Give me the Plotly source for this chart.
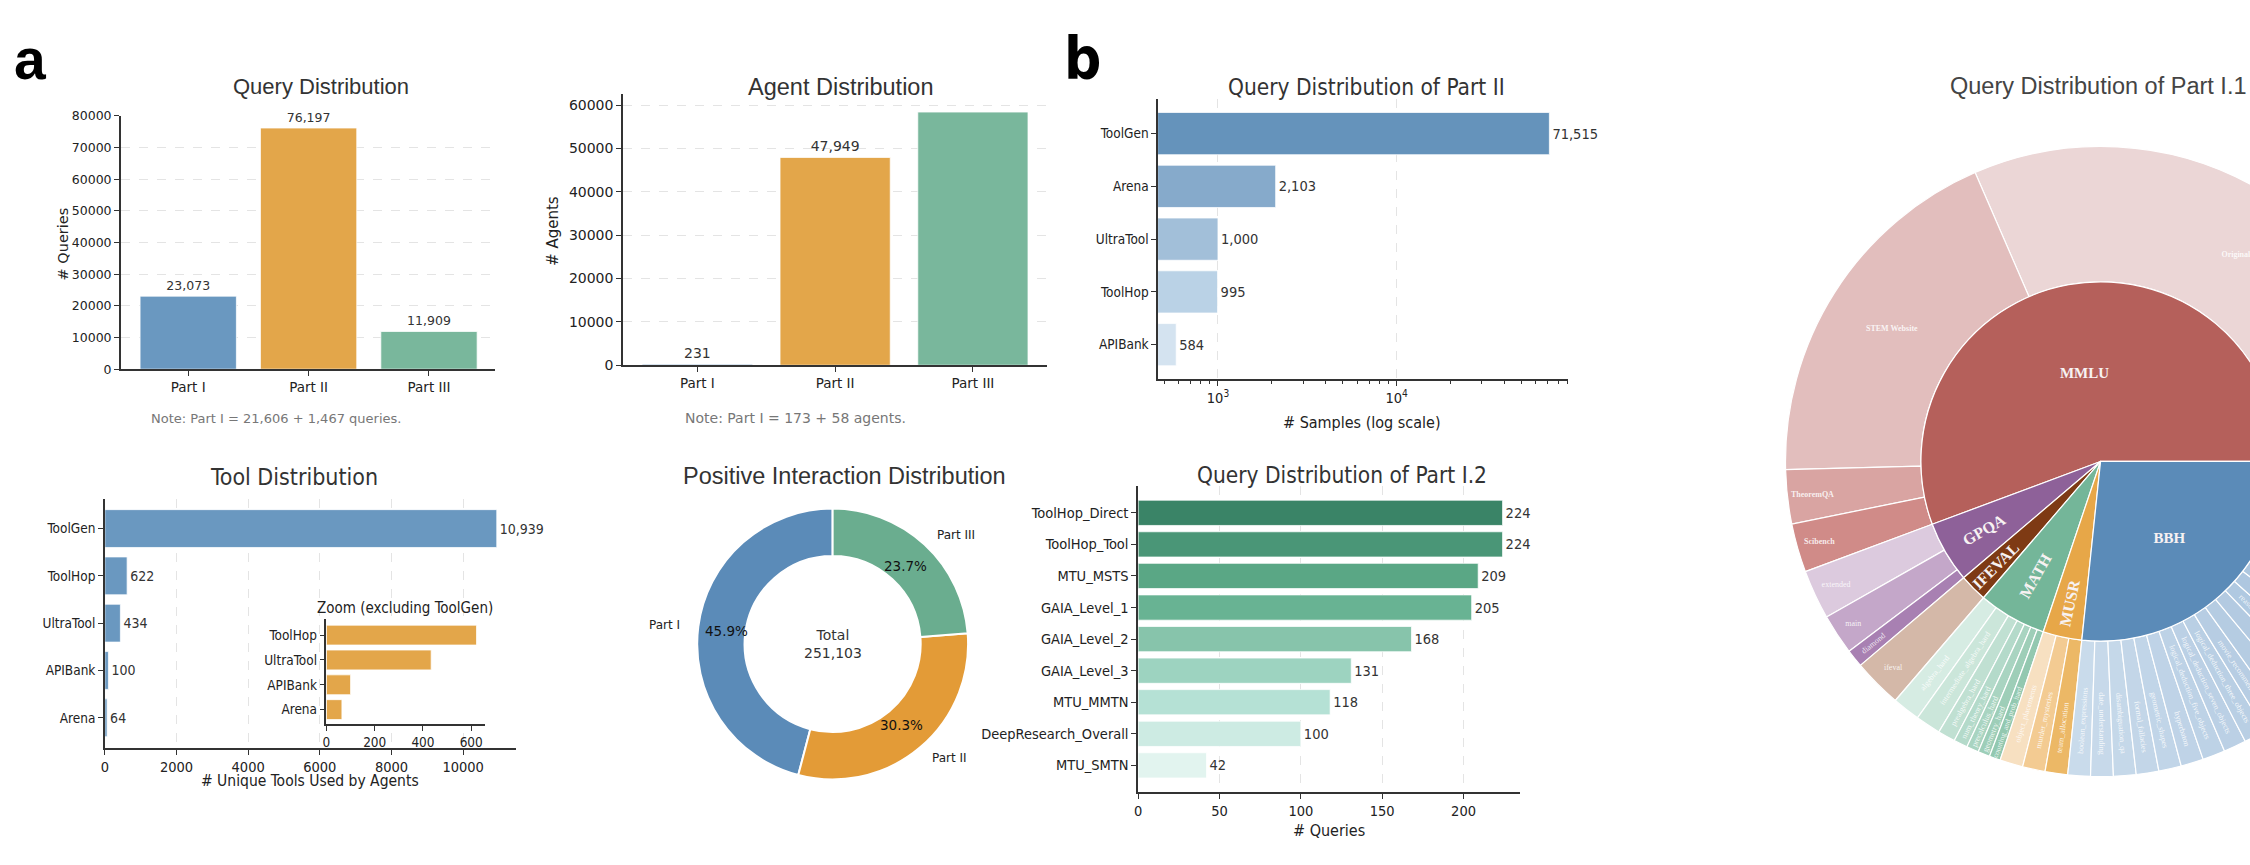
import math
import plotly.graph_objects as go

# ---------------- data ----------------
parts = ["Part I", "Part II", "Part III"]
query_counts = [23073, 76197, 11909]
agent_counts = [231, 47949, 58420]
query_note = "Note: Part I = 21,606 + 1,467 queries."
agent_note = "Note: Part I = 173 + 58 agents."

tool_sources = ["ToolGen", "ToolHop", "UltraTool", "APIBank", "Arena"]
tool_counts = [10939, 622, 434, 100, 64]

interaction_counts = [115300, 76200, 59603]

part2_sources = ["ToolGen", "Arena", "UltraTool", "ToolHop", "APIBank"]
part2_counts = [71515, 2103, 1000, 995, 584]

part12_names = ["ToolHop_Direct", "ToolHop_Tool", "MTU_MSTS", "GAIA_Level_1", "GAIA_Level_2",
                "GAIA_Level_3", "MTU_MMTN", "DeepResearch_Overall", "MTU_SMTN"]
part12_counts = [224, 224, 209, 205, 168, 131, 118, 100, 42]

sb_groups = ["MMLU", "GPQA", "IFEVAL", "MATH", "MUSR", "BBH"]
sb_leaf_group = (["MMLU"] * 4 + ["GPQA"] * 3 + ["IFEVAL"] + ["MATH"] * 7 + ["MUSR"] * 3 + ["BBH"] * 24)
sb_leaf_names = ["Original", "STEM Website", "TheoremQA", "Scibench",
                 "extended", "main", "diamond",
                 "ifeval",
                 "algebra_hard", "intermediate_algebra_hard", "prealgebra_hard", "num_theory_hard",
                 "precalculus_hard", "geometry_hard", "counting_and_prob_hard",
                 "object_placements", "murder_mysteries", "team_allocation",
                 "boolean_expressions", "date_understanding", "disambiguation_qa", "formal_fallacies",
                 "geometric_shapes", "hyperbaton", "logical_deduction_five_objects",
                 "logical_deduction_seven_objects", "logical_deduction_three_objects",
                 "movie_recommendation", "navigate", "object_counting",
                 "reasoning_about_colored_objects", "ruin_names",
                 "salient_translation_error_detection", "sports_understanding", "temporal_sequences",
                 "tracking_shuffled_objects_five_objects", "tracking_shuffled_objects_seven_objects",
                 "tracking_shuffled_objects_three_objects", "web_of_lies",
                 "causal_judgement", "snarks", "penguins_in_a_table"]
sb_leaf_values = [6810, 4083, 598, 541,
                  546, 448, 198,
                  541,
                  307, 280, 193, 154, 135, 132, 123,
                  256, 250, 250,
                  250, 250, 250, 250, 250, 250, 250, 250, 250, 250, 250, 250, 250, 250, 250,
                  250, 250, 250, 250, 250, 250, 187, 178, 146]
sb_horizontal_groups = ["MMLU", "BBH"]   # big sectors labelled horizontally, others radially

# ---------------- layout helpers ----------------
W, H = 2440, 865


def dxr(x0, x1):
    return [x0 / W, x1 / W]


def dyr(top, bottom):
    return [1 - bottom / H, 1 - top / H]


def px(x):
    return x / W


def py(y):
    return 1 - y / H


SANS = "DejaVu Sans, Verdana, sans-serif"
NARROW = "Liberation Sans Narrow, DejaVu Sans Condensed, Liberation Sans, sans-serif"
TITLE = "Liberation Sans, Arial, sans-serif"
SERIF = "Liberation Serif, DejaVu Serif, serif"
AX = "#333333"


def ax(**kw):
    base = dict(showline=True, linecolor=AX, linewidth=1.5, ticks="outside", ticklen=5,
                tickwidth=1.2, tickcolor=AX, zeroline=False, showgrid=False, fixedrange=True)
    base.update(kw)
    return base


def grid():
    return dict(showgrid=True, gridcolor="#e4e4e4", griddash="dash", gridwidth=1)


fig = go.Figure()
ann = []

c_blue, c_orange, c_green = "#6a98c0", "#e3a64a", "#79b79c"
edge = dict(color="rgba(255,255,255,0.75)", width=1)

# ---- Panel 1: Query Distribution ----
fig.add_trace(go.Bar(x=parts, y=query_counts, width=0.8,
                     marker=dict(color=[c_blue, c_orange, c_green], line=edge),
                     text=[f"{v:,}" for v in query_counts], textposition="outside",
                     outsidetextfont=dict(family=SANS, size=12.5, color="#333"),
                     constraintext="none", cliponaxis=False, xaxis="x", yaxis="y"))
# ---- Panel 2: Agent Distribution (Part III value label is not shown) ----
fig.add_trace(go.Bar(x=parts[:2], y=agent_counts[:2], width=0.8,
                     marker=dict(color=[c_blue, c_orange], line=edge),
                     text=[f"{v:,}" for v in agent_counts[:2]], textposition="outside",
                     outsidetextfont=dict(family=SANS, size=14, color="#333"),
                     constraintext="none", cliponaxis=False, xaxis="x2", yaxis="y2"))
fig.add_trace(go.Bar(x=parts[2:], y=agent_counts[2:], width=0.8,
                     marker=dict(color=[c_green], line=edge), xaxis="x2", yaxis="y2"))
# ---- Panel 3: Tool Distribution ----
fig.add_trace(go.Bar(y=tool_sources, x=tool_counts, orientation="h", width=0.8,
                     marker=dict(color=c_blue, line=edge),
                     text=[f"{v:,}" for v in tool_counts], textposition="outside",
                     outsidetextfont=dict(family=NARROW, size=14, color="#333"),
                     constraintext="none", cliponaxis=False, xaxis="x3", yaxis="y3"))
# inset
fig.add_trace(go.Bar(y=tool_sources[1:], x=tool_counts[1:], orientation="h", width=0.8,
                     marker=dict(color=c_orange, line=edge), xaxis="x4", yaxis="y4"))
# ---- Panel 5: Part II (log) ----
fig.add_trace(go.Bar(y=part2_sources, x=part2_counts, orientation="h", width=0.8,
                     marker=dict(color=["#6593bb", "#86aacb", "#a2bfd9", "#bad2e6", "#d4e3f0"],
                                 line=edge),
                     text=[f"{v:,}" for v in part2_counts], textposition="outside",
                     outsidetextfont=dict(family=NARROW, size=14.5, color="#333"),
                     constraintext="none", cliponaxis=False, xaxis="x5", yaxis="y5"))
# ---- Panel 6: Part I.2 ----
fig.add_trace(go.Bar(y=part12_names, x=part12_counts, orientation="h", width=0.8,
                     marker=dict(color=["#3a8467", "#4a9677", "#5aa785", "#68b393", "#87c4ab",
                                        "#9dd3c0", "#b5e1d5", "#cdebe3", "#e2f4ef"], line=edge),
                     text=[f"{v:,}" for v in part12_counts], textposition="outside",
                     outsidetextfont=dict(family=NARROW, size=14.5, color="#333"),
                     constraintext="none", cliponaxis=False, xaxis="x6", yaxis="y6"))

# ---- Panel 4: donut ----
# plotly "counterclockwise": first slice spans [rotation, rotation + size] clockwise,
# so to start the first slice at 12 o'clock going counterclockwise, offset by its size.
dcx, dcy, dR = 830, 648, 138
total_int = sum(interaction_counts)
fig.add_trace(go.Pie(values=interaction_counts, labels=parts, hole=0.65, sort=False,
                     direction="counterclockwise",
                     rotation=-360 * interaction_counts[0] / total_int, textinfo="none",
                     marker=dict(colors=["#5b8bb8", "#e39b37", "#6aad8f"],
                                 line=dict(color="white", width=2)),
                     domain=dict(x=dxr(dcx - dR, dcx + dR), y=dyr(dcy - dR, dcy + dR))))
cum = 0.0
for name, v in zip(parts, interaction_counts):
    frac = v / total_int
    mid = math.radians(90 + (cum + frac / 2) * 360)
    cum += frac
    c, s = math.cos(mid), math.sin(mid)
    ann.append(dict(x=px(dcx + 1.1 * dR * c), y=py(dcy - 1.1 * dR * s), text=name,
                    xanchor="left" if c > 0 else "right", yanchor="middle", showarrow=False,
                    xref="paper", yref="paper",
                    font=dict(family=SANS, size=12, color="#222")))
    ann.append(dict(x=px(dcx + 0.78 * dR * c), y=py(dcy - 0.78 * dR * s),
                    text=f"{frac * 100:.1f}%", xanchor="center", yanchor="middle",
                    xref="paper", yref="paper",
                    showarrow=False, font=dict(family=SANS, size=13.5, color="#111")))
ann.append(dict(x=px(dcx), y=py(dcy), text=f"Total<br>{total_int:,}", showarrow=False,
                xanchor="center", yanchor="middle", xref="paper", yref="paper",
                font=dict(family=SANS, size=14, color="#333")))

# ---- Panel 7: sunburst (two concentric pies) ----
group_colors = {"MMLU": "#b5605b", "GPQA": "#8e6199", "IFEVAL": "#7e3a14",
                "MATH": "#74b699", "MUSR": "#e7a748", "BBH": "#5b8bb8"}


def ramp(c0, c1, n):
    a = [int(c0[i:i + 2], 16) for i in (1, 3, 5)]
    b = [int(c1[i:i + 2], 16) for i in (1, 3, 5)]
    out = []
    for k in range(n):
        t = k / max(n - 1, 1)
        out.append("#" + "".join(f"{round(a[j] + (b[j] - a[j]) * t):02x}" for j in range(3)))
    return out


leaf_palette = {"MMLU": ["#ebd6d6", "#e2bebd", "#d9a4a2", "#d08b88"],
                "GPQA": ["#dccade", "#c4a7c9", "#a880b2"],
                "IFEVAL": ["#d4b8a8"],
                "MATH": ramp("#d6ece3", "#93c8b0", 7),
                "MUSR": ["#f7e0c1", "#f3cb92", "#ecb866"],
                "BBH": ramp("#c9dbeb", "#9ab8d7", 24)}
leaf_colors = []
counter = {g: 0 for g in sb_groups}
for g in sb_leaf_group:
    leaf_colors.append(leaf_palette[g][counter[g]])
    counter[g] += 1
leaf_text = [f"<b>{n}</b>" if g == "MMLU" else n for n, g in zip(sb_leaf_names, sb_leaf_group)]
group_totals = [sum(v for v, g in zip(sb_leaf_values, sb_leaf_group) if g == grp) for grp in sb_groups]
sb_total = sum(sb_leaf_values)

scx, scy, rin, rout = 2100, 462, 183, 321
fig.add_trace(go.Pie(values=sb_leaf_values, labels=sb_leaf_names, text=leaf_text,
                     textinfo="text", textposition="inside", insidetextorientation="auto",
                     hole=rin / rout, sort=False, direction="counterclockwise",
                     rotation=90 - 360 * sb_leaf_values[0] / sb_total,
                     marker=dict(colors=leaf_colors, line=dict(color="white", width=1.2)),
                     textfont=dict(family=SERIF, size=8, color="rgba(255,255,255,0.85)"),
                     domain=dict(x=dxr(scx - rout, scx + rout), y=dyr(scy - rout, scy + rout))))
inner_dom = dict(x=dxr(scx - rin, scx + rin), y=dyr(scy - rin, scy + rin))
inner_rot = 90 - 360 * group_totals[0] / sb_total
# coloured inner ring with horizontal labels on the big sectors
fig.add_trace(go.Pie(values=group_totals, labels=sb_groups,
                     text=[g if g in sb_horizontal_groups else "" for g in sb_groups],
                     textinfo="text", textposition="inside", insidetextorientation="horizontal",
                     sort=False, direction="counterclockwise", rotation=inner_rot,
                     marker=dict(colors=[group_colors[g] for g in sb_groups],
                                 line=dict(color="white", width=1.2)),
                     textfont=dict(family=SERIF, size=15, color="#f7f2f2", weight="bold"),
                     domain=inner_dom))
# transparent overlay carrying the radial labels of the thin sectors
fig.add_trace(go.Pie(values=group_totals, labels=sb_groups,
                     text=["" if g in sb_horizontal_groups else g for g in sb_groups],
                     textinfo="text", textposition="inside", insidetextorientation="radial",
                     sort=False, direction="counterclockwise", rotation=inner_rot,
                     marker=dict(colors=["rgba(0,0,0,0)"] * len(sb_groups),
                                 line=dict(color="rgba(0,0,0,0)", width=0)),
                     textfont=dict(family=SERIF, size=16, color="#f7f2f2", weight="bold"),
                     hoverinfo="skip", domain=inner_dom))


# ---------------- titles / labels ----------------
def label(x, y, text, size, family=TITLE, color="#333", angle=0, **kw):
    d = dict(x=px(x), y=py(y), text=text, showarrow=False, xanchor="center", yanchor="middle",
             xref="paper", yref="paper",
             textangle=angle, font=dict(family=family, size=size, color=color))
    d.update(kw)
    ann.append(d)


label(8, 52, "<b>a</b>", 57, family=TITLE, color="#000", xanchor="left")
label(1060, 52, "<b>b</b>", 58, family=NARROW, color="#000", xanchor="left")
label(318, 80, "Query Distribution", 22)
label(838, 80, "Agent Distribution", 23.5)
label(290, 478, "Tool Distribution", 23, family=NARROW)
label(842, 477, "Positive Interaction Distribution", 23.5)
label(1365, 80, "Query Distribution of Part II", 22.5, family=NARROW)
label(1340, 476, "Query Distribution of Part I.2", 22.5, family=NARROW)
label(2097, 79, "Query Distribution of Part I.1", 23.5, color="#444")
label(402, 611, "Zoom (excluding ToolGen)", 15, family=NARROW, color="#222")

label(272, 418, query_note, 13, family=SANS, color="#777")
label(793, 418, agent_note, 14, family=SANS, color="#777")
label(59, 240, "# Queries", 14.5, family=SANS, color="#222", angle=-90)
label(550, 227, "# Agents", 15, family=SANS, color="#222", angle=-90)
label(307, 788, "# Unique Tools Used by Agents", 15.5, family=NARROW, color="#222")
label(1360, 422, "# Samples (log scale)", 16, family=NARROW, color="#222")
label(1327, 838, "# Queries", 16, family=NARROW, color="#222")

tf_sans12 = dict(family=SANS, size=12.5, color="#222")
tf_sans14 = dict(family=SANS, size=13.5, color="#222")
tf_nar = dict(family=NARROW, size=13.5, color="#222")
tf_nar14 = dict(family=NARROW, size=14.5, color="#222")

minor_log = [v * m for v in (100, 1000, 10000) for m in range(2, 10) if 400 < v * m < 95000]

fig.update_layout(
    width=W, height=H, margin=dict(l=0, r=0, t=0, b=0), showlegend=False,
    paper_bgcolor="white", plot_bgcolor="white", bargap=0.2, barmode="overlay",
    annotations=ann,
    xaxis=ax(domain=dxr(117, 492), anchor="y", type="category", range=[-0.56, 2.55],
             tickfont=tf_sans14),
    yaxis=ax(domain=dyr(110, 368), anchor="x", range=[0, 80007],
             tickvals=list(range(0, 80001, 10000)), tickformat="d", tickfont=tf_sans12, **grid()),
    xaxis2=ax(domain=dxr(620, 1045), anchor="y2", type="category", range=[-0.54, 2.54],
              categoryorder="array", categoryarray=parts, tickfont=tf_sans14),
    yaxis2=ax(domain=dyr(88, 364), anchor="x2", range=[0, 62500],
              tickvals=list(range(0, 60001, 10000)), tickformat="d",
              tickfont=dict(family=SANS, size=14, color="#222"), **grid()),
    xaxis3=ax(domain=dxr(101, 513), anchor="y3", range=[0, 11480],
              tickvals=list(range(0, 10001, 2000)), tickformat="d", tickfont=tf_nar14, **grid()),
    yaxis3=ax(domain=dyr(500, 754), anchor="x3", type="category", range=[4.64, -0.63],
              tickfont=tf_nar),
    xaxis4=ax(domain=dxr(323, 482), anchor="y4", range=[0, 658],
              tickvals=[0, 200, 400, 600], tickfont=tf_nar),
    yaxis4=ax(domain=dyr(623, 730), anchor="x4", type="category", range=[3.6, -0.63],
              tickfont=tf_nar),
    xaxis5=ax(domain=dxr(1156, 1567), anchor="y5", type="log", range=[2.665, 4.961],
              tickvals=[1000, 10000], ticktext=["10<sup>3</sup>", "10<sup>4</sup>"],
              tickfont=tf_nar14,
              minor=dict(tickmode="array", tickvals=minor_log, ticks="outside", ticklen=3,
                         tickcolor=AX, tickwidth=1, showgrid=False), **grid()),
    yaxis5=ax(domain=dyr(93, 378), anchor="x5", type="category", range=[4.65, -0.65],
              tickfont=tf_nar),
    xaxis6=ax(domain=dxr(1136, 1518), anchor="y6", range=[0, 234.4],
              tickvals=[0, 50, 100, 150, 200], tickfont=tf_nar14, **grid()),
    yaxis6=ax(domain=dyr(487, 799), anchor="x6", type="category", range=[8.85, -0.85],
              tickfont=tf_nar14),
)

fig.write_html("out.html", post_script=(
    "document.documentElement.style.overflow='hidden';"
    "document.body.style.overflow='hidden';document.body.style.margin='0';"))
